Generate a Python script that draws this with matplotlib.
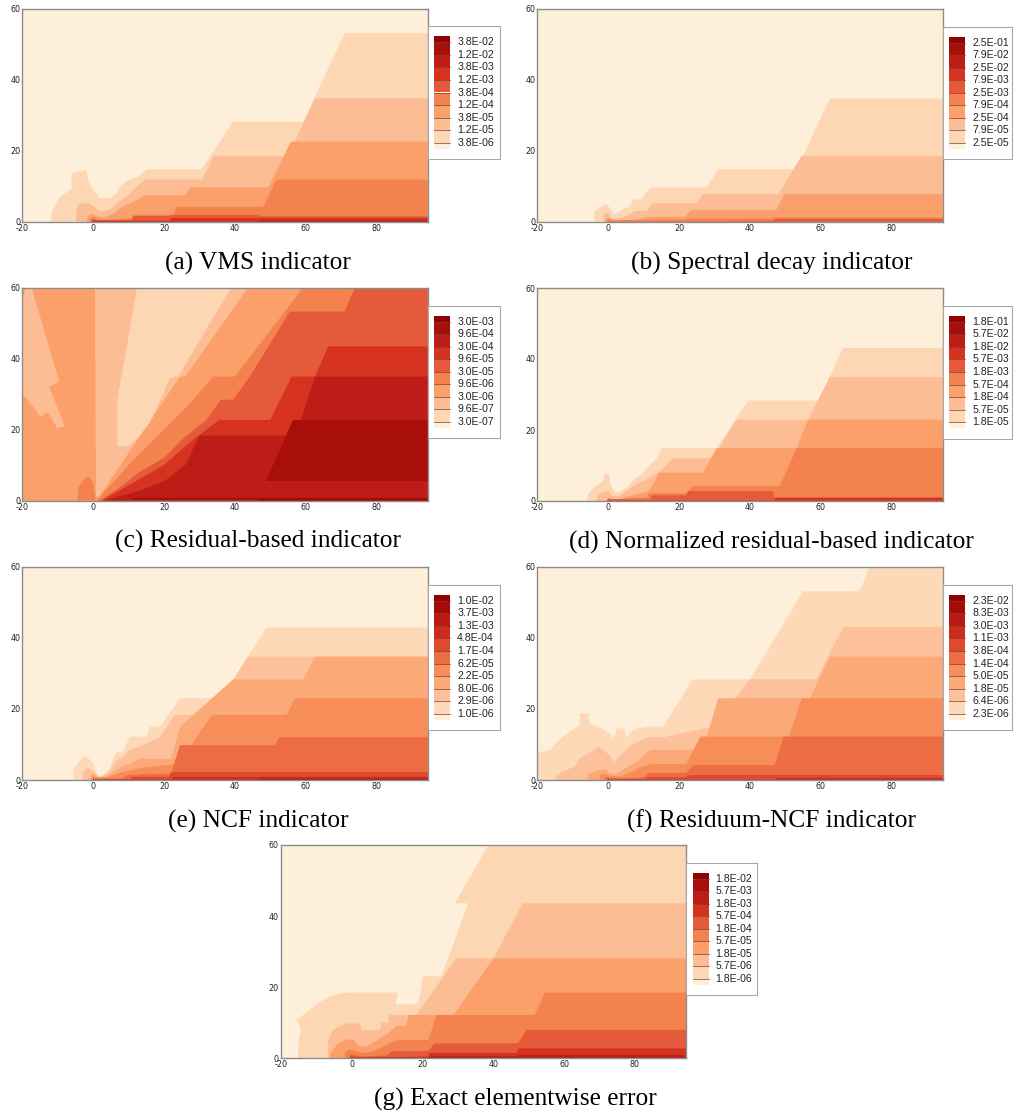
import matplotlib.pyplot as plt
from matplotlib.colors import LinearSegmentedColormap
from matplotlib.patches import Rectangle

plt.rcParams['axes.unicode_minus'] = False

W, H = 1017, 1118
XMIN, XMAX, YMAX = -20, 94.4, 60

# ---- data: band outlines (upper edge, closed to y=0) ----
# (a) VMS indicator
vms_labels = ['3.8E-02', '1.2E-02', '3.8E-03', '1.2E-03', '3.8E-04', '1.2E-04', '3.8E-05', '1.2E-05', '3.8E-06']
vms_lev = [1, 2, 3, 4, 5, 6, 7]
vms_x = [[-12.0, -11.8, -9.3, -8.0, -6.1, -6.1, -1.9, -1.4, 0.0, 1.9, 4.7, 6.6, 7.5, 9.9, 12.7, 15.1, 30.6, 39.5, 59.3, 71.0, 94.4],
         [-4.9, -4.7, -4.2, -2.5, -0.8, 0.5, 1.9, 3.5, 5.2, 7.1, 9.4, 11.3, 14.6, 30.8, 33.9, 55.0, 62.6, 94.4],
         [-1.8, -1.6, -0.5, 1.0, 3.0, 6.1, 7.5, 11.3, 15.0, 26.0, 27.3, 49.4, 55.8, 94.4],
         [-1.0, -0.8, 0.3, 1.5, 6.0, 11.0, 11.3, 22.6, 23.5, 48.0, 51.7, 94.4],
         [-0.6, -0.4, 0.4, 11.0, 11.3, 21.6, 22.0, 46.5, 47.0, 94.4],
         [-0.3, 0.0, 0.5, 21.6, 22.0, 46.5, 47.0, 94.4],
         [-0.1, 0.1, 0.3, 46.5, 47.0, 94.4]]
vms_y = [[0, 2.4, 7.2, 8.0, 9.4, 13.6, 14.6, 11.8, 9.0, 6.6, 6.6, 8.0, 9.9, 11.8, 12.7, 14.8, 14.8, 28.2, 28.2, 53.2, 53.2],
         [0, 3.3, 4.7, 5.3, 5.0, 4.0, 2.6, 3.0, 3.8, 5.6, 7.1, 8.9, 11.9, 11.9, 18.5, 18.5, 34.8, 34.8],
         [0, 1.6, 2.2, 1.6, 1.2, 2.4, 3.8, 5.6, 7.5, 7.5, 9.7, 9.7, 22.6, 22.6],
         [0, 1.0, 1.2, 0.5, 0.6, 1.0, 2.0, 2.0, 4.2, 4.2, 11.9, 11.9],
         [0, 0.7, 0.5, 0.4, 1.6, 1.6, 1.9, 1.9, 1.5, 1.5],
         [0, 0.5, 0.3, 0.3, 1.0, 1.0, 1.1, 1.1],
         [0, 0.3, 0.1, 0.1, 0.4, 0.4]]

# (b) Spectral decay indicator
spec_labels = ['2.5E-01', '7.9E-02', '2.5E-02', '7.9E-03', '2.5E-03', '7.9E-04', '2.5E-04', '7.9E-05', '2.5E-05']
spec_lev = [1, 2, 3, 4, 5]
spec_x = [[-4.0, -3.8, -2.5, -0.5, 0.3, 1.5, 3.8, 4.7, 5.8, 7.1, 9.4, 10.5, 12.2, 27.8, 31.0, 53.2, 62.6, 94.4],
          [-1.5, -1.2, 0.0, 1.0, 4.0, 6.6, 7.5, 10.8, 12.7, 24.9, 26.8, 48.0, 54.6, 94.4],
          [-0.8, -0.5, 0.5, 2.0, 8.0, 11.3, 21.6, 23.5, 47.5, 49.6, 94.4],
          [-0.4, 0.0, 0.4, 6.0, 21.6, 22.0, 46.6, 47.0, 94.4],
          [-0.2, 0.0, 0.2, 22.0, 46.6, 47.0, 94.4]]
spec_y = [[0, 2.8, 4.0, 5.0, 4.0, 2.0, 3.1, 4.0, 4.0, 6.3, 6.3, 8.0, 9.6, 9.6, 14.8, 14.8, 34.8, 34.8],
          [0, 2.0, 2.5, 0.8, 1.0, 2.4, 3.0, 3.0, 5.2, 5.2, 7.8, 7.8, 18.6, 18.6],
          [0, 1.2, 1.0, 0.3, 0.5, 1.4, 1.4, 3.3, 3.3, 7.8, 7.8],
          [0, 0.7, 0.3, 0.5, 0.6, 0.9, 0.9, 1.2, 1.2],
          [0, 0.4, 0.1, 0.1, 0.3, 0.8, 0.8]]

# (c) Residual-based indicator (closed outlines are free-standing patches)
resid_labels = ['3.0E-03', '9.6E-04', '3.0E-04', '9.6E-05', '3.0E-05', '9.6E-06', '3.0E-06', '9.6E-07', '3.0E-07']
resid_lev = [3, 2, 2, 1, 4, 4, 5, 6, 7, 8, 8, 9]
resid_x = [[-20.0, 94.4],
           [-20.0, -18.8, -15.0, -12.7, -10.2, -8.0, -12.4, -9.6, -17.4, -18.8, -20.0, -20.0],
           [0.8, 1.6, 24.5, 26.0, 43.7, 0.5, 0.8],
           [6.8, 9.9, 12.5, 16.0, 20.0, 21.6, 24.0, 39.0, 12.4, 6.8, 6.8],
           [-4.5, -4.2, -3.0, -1.5, 0.0, 0.7],
           [1.0, 10.0, 20.0, 27.0, 33.9, 40.0, 59.3, 94.4],
           [2.0, 8.0, 13.0, 20.0, 26.0, 32.0, 36.0, 39.5, 44.2, 55.5, 71.0, 73.8, 94.4],
           [2.5, 12.0, 20.0, 28.0, 35.6, 50.0, 56.0, 62.6, 66.3, 94.4],
           [3.0, 12.0, 20.0, 26.0, 30.0, 56.0, 58.6, 62.6, 94.4],
           [48.9, 94.4, 94.4, 56.5, 48.9],
           [0.2, 11.3, 11.6, 46.6, 47.0, 94.4],
           [46.6, 47.0, 94.4]]
resid_y = [[60, 60],
           [29.3, 28.8, 23.7, 24.8, 20.4, 20.9, 32.1, 33.5, 60, 60, 57, 29.3],
           [1.2, 1.0, 34.9, 34.9, 60, 60, 1.2],
           [15.3, 15.3, 17.5, 22.0, 30.5, 34.5, 35.0, 60, 60, 28.4, 15.3],
           [0, 3.5, 5.5, 7.0, 5.0, 0],
           [0, 10, 20, 27, 34.9, 34.9, 60, 60],
           [0, 4, 8, 12, 18, 22.7, 28.4, 28.4, 34.9, 53.2, 53.2, 60, 60],
           [0, 5.4, 10, 17, 22.7, 22.7, 34.9, 34.9, 43.4, 43.4],
           [0, 2.4, 5.4, 10, 18.3, 18.3, 22.7, 34.9, 34.9],
           [5.4, 5.4, 22.7, 22.7, 5.4],
           [0, 0.2, 0.7, 0.7, 0.8, 0.8],
           [0, 0.35, 0.35]]

# (d) Normalized residual-based indicator
nres_labels = ['1.8E-01', '5.7E-02', '1.8E-02', '5.7E-03', '1.8E-03', '5.7E-04', '1.8E-04', '5.7E-05', '1.8E-05']
nres_lev = [1, 2, 3, 4, 5, 6]
nres_x = [[-6.1, -5.6, -4.7, -3.0, -1.5, -0.9, 0.2, 0.5, 1.2, 2.0, 3.3, 5.6, 7.1, 9.5, 11.3, 13.7, 15.1, 30.6, 39.5, 59.3, 66.3, 94.4],
          [-3.5, -3.0, -1.5, 0.0, 1.0, 2.5, 4.0, 6.1, 8.5, 10.8, 14.1, 16.0, 18.3, 29.6, 36.2, 56.4, 62.6, 94.4],
          [1.5, 5.0, 8.0, 11.3, 13.5, 14.1, 26.8, 30.6, 53.2, 56.4, 94.4],
          [-0.5, 0.0, 2.0, 6.0, 11.0, 11.3, 22.1, 24.0, 48.4, 53.2, 94.4],
          [-0.3, 0.0, 12.0, 12.3, 22.1, 22.5, 46.5, 47.0, 94.4],
          [-0.2, 0.0, 0.2, 47.0, 47.2, 94.4]]
nres_y = [[0, 2.0, 3.3, 4.5, 5.5, 7.8, 7.5, 5.0, 3.5, 2.5, 2.6, 4.0, 5.9, 7.5, 9.7, 12.0, 14.9, 14.9, 28.3, 28.3, 43.1, 43.1],
          [0, 1.5, 2.5, 3.0, 1.5, 1.2, 2.0, 3.6, 5.0, 6.1, 7.8, 9.7, 12.0, 12.0, 22.9, 22.9, 34.9, 34.9],
          [0, 1.0, 2.0, 2.6, 6.1, 8.0, 8.0, 14.9, 14.9, 22.9, 22.9],
          [0, 0.8, 0.5, 0.8, 1.0, 2.2, 2.2, 4.2, 4.2, 14.9, 14.9],
          [0, 0.5, 0.4, 1.6, 1.6, 2.8, 2.8, 1.0, 1.0],
          [0, 0.3, 0.1, 0.1, 0.9, 0.9]]

# (e) NCF indicator
ncf_labels = ['1.0E-02', '3.7E-03', '1.3E-03', '4.8E-04', '1.7E-04', '6.2E-05', '2.2E-05', '8.0E-06', '2.9E-06', '1.0E-06']
ncf_lev = [1, 2, 3, 4, 5, 6, 7, 8]
ncf_x = [[-5.5, -5.6, -4.5, -3.3, -2.4, -1.2, 0.0, 0.8, 1.5, 3.0, 4.5, 5.5, 6.6, 8.5, 10.3, 15.1, 16.0, 18.8, 24.5, 36.2, 48.9, 94.4],
         [-3.0, -2.8, -1.5, 0.0, 1.2, 3.0, 5.0, 6.6, 8.5, 10.3, 13.0, 18.8, 23.0, 33.3, 43.7, 94.4],
         [-0.8, -0.6, 0.5, 1.5, 4.0, 6.0, 8.0, 10.5, 13.0, 22.0, 24.5, 39.5, 59.3, 62.6, 94.4],
         [-0.5, -0.3, 0.5, 4.0, 6.0, 8.0, 14.0, 24.0, 33.5, 54.6, 56.9, 94.4],
         [-0.3, 0.0, 0.3, 8.0, 10.0, 22.0, 24.5, 51.3, 52.5, 94.4],
         [-0.2, 0.0, 0.2, 10.5, 11.0, 21.5, 22.0, 46.5, 94.4],
         [-0.1, 0.0, 0.1, 22.0, 22.5, 46.5, 47.0, 94.4],
         [46.5, 47.0, 94.4]]
ncf_y = [[0, 2.8, 4.5, 6.1, 7.0, 6.0, 4.7, 2.5, 1.0, 1.5, 3.0, 5.5, 8.0, 8.0, 12.2, 12.2, 15.0, 15.0, 23.0, 23.0, 42.9, 42.9],
         [0, 2.2, 3.5, 2.5, 0.8, 1.2, 2.8, 5.5, 6.5, 8.5, 9.4, 12.0, 18.3, 18.3, 34.7, 34.7],
         [0, 1.5, 1.8, 0.6, 1.0, 2.5, 3.8, 4.5, 6.0, 6.0, 15.0, 28.3, 28.3, 34.7, 34.7],
         [0, 1.0, 0.8, 0.8, 1.5, 2.2, 3.5, 4.5, 18.3, 18.3, 23.0, 23.0],
         [0, 0.6, 0.3, 0.5, 1.5, 1.8, 9.8, 9.8, 12.0, 12.0],
         [0, 0.4, 0.2, 0.3, 0.9, 0.9, 2.2, 2.2, 2.2],
         [0, 0.3, 0.1, 0.1, 0.8, 0.8, 0.9, 0.9],
         [0, 0.4, 0.4]]

# (f) Residuum-NCF indicator
rncf_labels = ['2.3E-02', '8.3E-03', '3.0E-03', '1.1E-03', '3.8E-04', '1.4E-04', '5.0E-05', '1.8E-05', '6.4E-06', '2.3E-06']
rncf_lev = [1, 2, 3, 4, 5, 6, 7]
rncf_x = [[-20.0, -16.5, -14.5, -12.7, -8.0, -8.0, -5.6, -5.3, -3.0, -1.0, 0.5, 1.5, 2.5, 4.5, 5.0, 6.5, 8.0, 11.3, 15.5, 23.8, 40.0, 55.0, 71.0, 73.8, 94.4],
          [-15.0, -14.5, -9.5, -8.0, -4.7, -2.8, -1.0, 0.5, 1.5, 3.0, 4.5, 6.0, 8.0, 11.3, 15.5, 29.6, 40.0, 58.8, 66.3, 94.4],
          [-6.0, -5.5, -3.0, -1.0, 0.5, 2.0, 4.0, 6.0, 8.0, 10.0, 12.0, 26.8, 31.0, 56.9, 62.6, 94.4],
          [-2.5, -2.2, -1.0, 0.5, 3.0, 6.0, 9.0, 12.0, 22.0, 26.0, 51.0, 54.6, 94.4],
          [-1.0, -0.8, 0.5, 5.0, 10.0, 11.3, 22.0, 24.0, 47.0, 49.5, 94.4],
          [-0.4, 0.0, 0.4, 10.0, 11.0, 22.0, 22.5, 47.0, 47.5, 94.4],
          [-0.2, 0.0, 0.2, 47.0, 47.5, 94.4]]
rncf_y = [[7.8, 8.4, 10.5, 12.2, 15.5, 18.7, 18.7, 16.0, 15.0, 14.0, 13.0, 11.5, 14.5, 14.5, 12.0, 13.5, 14.5, 15.0, 15.0, 28.3, 28.3, 53.1, 53.1, 60, 60],
          [0, 1.5, 3.8, 6.2, 8.0, 9.4, 8.0, 7.0, 5.0, 6.5, 8.0, 9.5, 10.5, 12.0, 12.0, 15.0, 28.3, 28.3, 43.1, 43.1],
          [0, 1.8, 2.6, 3.2, 2.0, 1.5, 2.8, 4.0, 5.0, 7.0, 8.5, 8.5, 23.0, 23.0, 34.7, 34.7],
          [0, 1.5, 1.8, 1.2, 1.0, 2.0, 3.5, 4.5, 4.5, 12.2, 12.2, 23.0, 23.0],
          [0, 0.8, 0.6, 0.5, 0.8, 2.0, 2.0, 4.2, 4.2, 12.2, 12.2],
          [0, 0.5, 0.2, 0.3, 0.8, 0.8, 1.4, 1.4, 1.4, 1.4],
          [0, 0.3, 0.1, 0.1, 0.6, 0.6]]

# (g) Exact elementwise error
exact_labels = ['1.8E-02', '5.7E-03', '1.8E-03', '5.7E-04', '1.8E-04', '5.7E-05', '1.8E-05', '5.7E-06', '1.8E-06']
exact_lev = [1, 2, 3, 4, 5, 6, 7]
exact_x = [[-15.1, -15.0, -14.3, -15.5, -12.0, -9.0, -6.0, -3.0, 0.0, 13.0, 12.5, 18.8, 20.2, 25.4, 32.9, 29.2, 38.6, 94.4],
           [-6.6, -6.6, -5.5, -3.8, -1.2, 2.4, 2.8, 8.0, 8.5, 10.4, 10.6, 18.3, 29.6, 40.0, 48.4, 94.4],
           [-6.2, -6.0, -4.0, -1.5, 0.5, 2.0, 4.2, 7.5, 10.3, 12.7, 15.5, 16.0, 28.8, 40.0, 94.4],
           [-2.0, -1.8, -0.5, 1.0, 3.0, 6.0, 8.0, 10.4, 13.0, 21.7, 24.0, 51.7, 54.6, 94.4],
           [-0.8, -0.5, 0.5, 3.0, 10.0, 11.5, 21.5, 23.5, 47.0, 49.4, 94.4],
           [-0.4, 0.0, 0.4, 21.5, 22.0, 46.6, 47.0, 94.4],
           [-0.2, 0.0, 0.2, 22.0, 22.5, 46.6, 47.0, 94.4]]
exact_y = [[0, 5.0, 8.5, 10.8, 13.5, 15.8, 17.5, 18.3, 18.5, 18.5, 15.2, 15.2, 23.1, 23.1, 43.6, 43.6, 60, 60],
           [0, 5.0, 7.5, 8.9, 9.8, 9.8, 8.0, 8.0, 10.0, 10.0, 12.2, 12.2, 28.1, 28.1, 43.6, 43.6],
           [0, 1.4, 4.0, 5.3, 5.3, 3.5, 3.3, 5.2, 7.0, 9.1, 9.1, 12.2, 12.2, 28.1, 28.1],
           [0, 1.8, 2.5, 2.0, 1.5, 2.0, 2.8, 4.0, 5.2, 5.2, 12.2, 12.2, 18.5, 18.5],
           [0, 1.0, 0.8, 0.5, 0.8, 2.0, 2.0, 4.2, 4.2, 8.0, 8.0],
           [0, 0.6, 0.2, 0.5, 1.5, 1.5, 2.8, 2.8],
           [0, 0.3, 0.1, 0.2, 0.6, 0.6, 0.9, 0.9]]

# colour ramp similar to the Tecplot contour map
ramp = LinearSegmentedColormap.from_list(
    'ramp', ['#fdefd9', '#fdd6b4', '#fcbb93', '#fca06b', '#f3824f',
             '#e55a3a', '#d5321f', '#bf1d17', '#a80e0a', '#920000'])

fig = plt.figure(figsize=(W / 100, H / 100), dpi=100)


def fig_box(l, t, r, b):
    return [l / W, 1 - b / H, (r - l) / W, (b - t) / H]


def draw_bands(ax, levels, xs, ys, colors):
    for lev, bx, by in zip(levels, xs, ys):
        if bx[0] == bx[-1] and by[0] == by[-1]:
            px, py = bx, by
        else:
            px = list(bx) + [bx[-1], bx[0]]
            py = list(by) + [0, 0]
        ax.fill(px, py, color=colors[lev], lw=0)


def draw_legend(frame, labels, colors):
    l, t, r, b = frame
    lax = fig.add_axes(fig_box(l, t, r, b))
    lax.set_xlim(0, r - l)
    lax.set_ylim(b - t, 0)
    lax.set_xticks([])
    lax.set_yticks([])
    for s in lax.spines.values():
        s.set_color('#a8a8a8')
        s.set_linewidth(0.8)
    n = len(labels)
    step = (b - t - 20) / n
    edges = [10] + [10 + step / 2 + i * step for i in range(n)] + [10 + n * step]
    for i in range(n + 1):
        lax.add_patch(Rectangle((6.5, edges[i]), 16, edges[i + 1] - edges[i],
                                facecolor=colors[n - i], edgecolor='none'))
    for i, lab in enumerate(labels):
        yy = edges[i + 1]
        lax.plot([6.5, 22.5], [yy, yy], color='#7a4030', lw=0.5)
        lax.text(29.5, yy, lab, va='center', ha='left', fontsize=7.6,
                 family='Liberation Sans', color='#222222')


panels = [
    ('(a) VMS indicator', (22.3, 9.0, 427.7, 221.7), (427.7, 26.0, 500.0, 159.0),
     vms_lev, vms_x, vms_y, vms_labels),
    ('(b) Spectral decay indicator', (537.3, 9.0, 942.7, 221.7), (942.7, 26.5, 1012.0, 159.0),
     spec_lev, spec_x, spec_y, spec_labels),
    ('(c) Residual-based indicator', (22.3, 287.5, 427.7, 500.5), (427.7, 305.5, 500.0, 438.0),
     resid_lev, resid_x, resid_y, resid_labels),
    ('(d) Normalized residual-based indicator', (537.3, 288.0, 942.7, 501.0), (942.7, 305.5, 1012.0, 438.5),
     nres_lev, nres_x, nres_y, nres_labels),
    ('(e) NCF indicator', (22.3, 566.7, 427.7, 780.0), (427.7, 584.5, 500.0, 730.0),
     ncf_lev, ncf_x, ncf_y, ncf_labels),
    ('(f) Residuum-NCF indicator', (537.3, 566.7, 942.7, 780.0), (942.7, 584.5, 1012.0, 730.0),
     rncf_lev, rncf_x, rncf_y, rncf_labels),
    ('(g) Exact elementwise error', (280.7, 845.0, 686.0, 1058.3), (686.0, 862.5, 757.0, 995.0),
     exact_lev, exact_x, exact_y, exact_labels),
]

for caption, box, frame, lev, xs, ys, labels in panels:
    n_bands = len(labels) + 1
    colors = [ramp(i / (n_bands - 1)) for i in range(n_bands)]
    ax = fig.add_axes(fig_box(*box))
    ax.set_facecolor(colors[0])
    draw_bands(ax, lev, xs, ys, colors)
    ax.set_xlim(XMIN, XMAX)
    ax.set_ylim(0, YMAX)
    ax.set_xticks([-20, 0, 20, 40, 60, 80])
    ax.set_yticks([0, 20, 40, 60])
    ax.tick_params(length=0, pad=1.5, labelsize=5.8, colors='#222222')
    for s in ax.spines.values():
        s.set_color('#8c8c8c')
        s.set_linewidth(1.0)
    draw_legend(frame, labels, colors)
    cx = (box[0] + frame[2]) / 2 - 3
    fig.text(cx / W, 1 - (box[3] + 47.5) / H, caption, ha='center', va='baseline',
             fontsize=18.3, family='Liberation Serif', color='black')

fig.savefig('out.png', dpi=100)
